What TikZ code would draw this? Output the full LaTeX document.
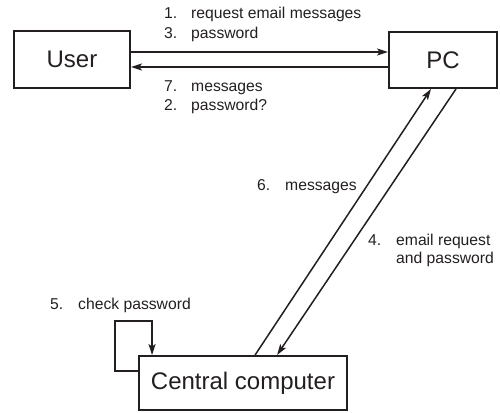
\documentclass[tikz,border=0pt]{standalone}
\usepackage{fontspec}
\setmainfont{Liberation Sans}
\usetikzlibrary{arrows.meta}
\definecolor{ink}{HTML}{231F20}
\begin{document}
\begin{tikzpicture}[x=1pt,y=-1pt,
  box/.style={draw=ink, text=ink, line width=1.9pt, inner sep=0pt, font=\fontsize{24}{28}\selectfont},
  arr/.style={draw=ink, line width=1.5pt, -{Stealth[length=11pt,width=7pt,inset=2.5pt]}},
  lbl/.style={anchor=base west, inner sep=0pt, text=ink, font=\fontsize{15.7}{18}\selectfont}]
\useasboundingbox (0,0) rectangle (500,412);
\node[box, minimum width=116pt, minimum height=57pt] (user) at (72,59.5) {User};
\node[box, minimum width=108pt, minimum height=56pt] (pc) at (443,60) {PC};
\node[box, minimum width=208pt, minimum height=54pt] (cc) at (243,383) {Central computer};
\coordinate (r1) at (0,52);
\coordinate (r2) at (0,67);
\draw[arr] (user.east |- r1) -- (pc.west |- r1);
\draw[arr] (pc.west |- r2) -- (user.east |- r2);
\draw[arr] ([xshift=117pt]cc.north west) -- ([xshift=-12pt]pc.south);
\draw[arr] ([xshift=13pt]pc.south) -- ([xshift=139pt]cc.north west);
\draw[arr] ([yshift=-16pt]cc.north west) -| ([xshift=-23pt,yshift=34pt]cc.north west) -| ([xshift=14pt]cc.north west);
% labels
\node[lbl] (n1) at (164,19) {1.};
\node[lbl] (t1) at (191,19) {request email messages};
\node[lbl] (n3) at (164,39) {3.};
\node[lbl] (t3) at (191,39) {password};
\node[lbl] (n7) at (164,91) {7.};
\node[lbl] (t7) at (191,91) {messages};
\node[lbl] (n2) at (164,110) {2.};
\node[lbl] (t2) at (191,110) {password?};
\node[lbl] (n6) at (257,190) {6.};
\node[lbl] (t6) at (285,190) {messages};
\node[lbl] (n4) at (368,245) {4.};
\node[lbl] (t4) at (396,245) {email request};
\node[lbl] (t4b) at (396,263) {and password};
\node[lbl] (n5) at (50,309) {5.};
\node[lbl] (t5) at (78,309) {check password};
\end{tikzpicture}
\end{document}
